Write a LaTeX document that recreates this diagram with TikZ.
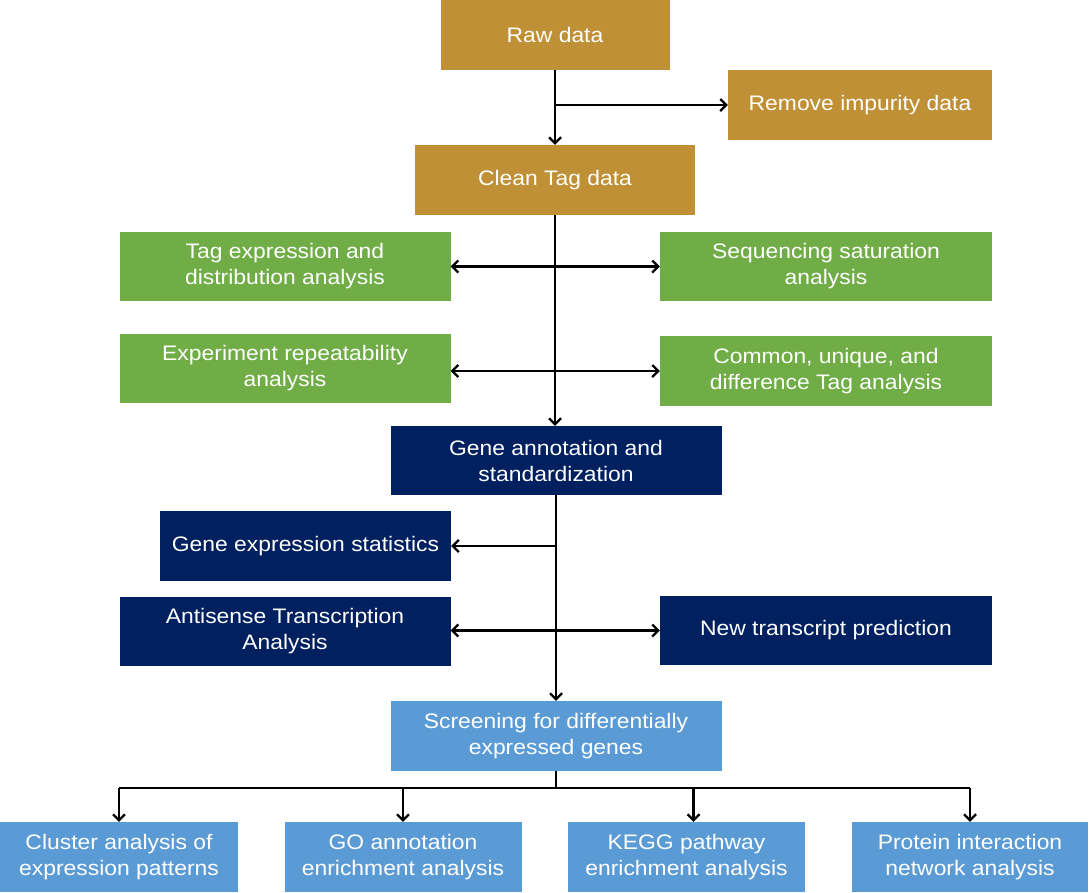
\documentclass[tikz,border=0pt]{standalone}
\usepackage{fontspec}
\setmainfont[FakeStretch=1.09]{Liberation Sans}
\usetikzlibrary{arrows.meta}
\definecolor{gold}{HTML}{BF9035}
\definecolor{leaf}{HTML}{70AD47}
\definecolor{navy}{HTML}{002060}
\definecolor{sky}{HTML}{5B9BD5}
\tikzset{
	>={Straight Barb[length=6pt, width=12pt, line width=2.2pt]},
	box/.style={rectangle, inner sep=0pt, text=white, align=center, font=\fontsize{21}{26}\selectfont},
	goldbox/.style={box, fill=gold},
	leafbox/.style={box, fill=leaf},
	navybox/.style={box, fill=navy},
	skybox/.style={box, fill=sky},
	bus/.style={line width=2.5pt},
	link/.style={bus, ->},
	twoway/.style={bus, <->}
}

\begin{document}
\begin{tikzpicture}[x=1pt, y=-1pt]
			%%%%% START %%%%%
			
			\useasboundingbox (0, 0) rectangle (1090, 892);
			
			\node[goldbox, minimum width=229, minimum height=70] (raw) at (555, 35) {Raw data};
			\node[goldbox, minimum width=264, minimum height=70] (impurity) at (860, 105) {Remove impurity data};
			\node[goldbox, minimum width=280, minimum height=70] (clean) at (555, 180) {Clean Tag data};
			
			\node[leafbox, minimum width=331, minimum height=69] (tagexpr) at (285, 266.5) {Tag expression and\\distribution analysis};
			\node[leafbox, minimum width=332, minimum height=69] (seqsat) at (826, 266.5) {Sequencing saturation\\analysis};
			\node[leafbox, minimum width=331, minimum height=69] (repeat) at (285, 368.5) {Experiment repeatability\\analysis};
			\node[leafbox, minimum width=332, minimum height=70] (common) at (826, 371) {Common, unique, and\\difference Tag analysis};
			
			\node[navybox, minimum width=331, minimum height=69] (annot) at (556, 460.5) {Gene annotation and\\standardization};
			\node[navybox, minimum width=291, minimum height=70] (genestat) at (305.5, 546) {Gene expression statistics};
			\node[navybox, minimum width=331, minimum height=69] (antisense) at (285, 631.5) {Antisense Transcription\\Analysis};
			\node[navybox, minimum width=332, minimum height=69] (newtrans) at (826, 630.5) {New transcript prediction};
			
			\node[skybox, minimum width=331, minimum height=70] (screen) at (556, 736) {Screening for differentially\\expressed genes};
			
			\node[skybox, minimum width=238, minimum height=70] (cluster) at (119, 857) {Cluster analysis of\\expression patterns};
			\node[skybox, minimum width=237, minimum height=70] (go) at (403, 857) {GO annotation\\enrichment analysis};
			\node[skybox, minimum width=237, minimum height=70] (kegg) at (686.5, 857) {KEGG pathway\\enrichment analysis};
			\node[skybox, minimum width=236, minimum height=70] (protein) at (970, 857) {Protein interaction\\network analysis};
			
			\draw[link] (raw.south) -- (clean.north);
			\draw[link] (raw.south |- impurity.west) -- (impurity.west);
			
			\draw[link] (clean.south) -- (clean.south |- annot.north);
			\draw[twoway] (tagexpr.east) -- (seqsat.west);
			\draw[twoway] (common.west -| repeat.east) -- (common.west);
			
			\draw[link] (annot.south) -- (screen.north);
			\draw[link] (annot.south |- genestat.east) -- (genestat.east);
			\draw[twoway] (newtrans.west -| antisense.east) -- (newtrans.west);
			
			\coordinate (fork) at (556, 788);
			\draw[bus] (screen.south) -- (fork);
			\draw[bus] (fork -| cluster.north) -- (fork -| protein.north);
			\draw[link] (fork -| cluster.north) -- (cluster.north);
			\draw[link] (fork -| go.north) -- (go.north);
			\draw[link] ([xshift=7]kegg.north |- fork) -- ([xshift=7]kegg.north);
			\draw[link] (fork -| protein.north) -- (protein.north);
			
			%%%%% END %%%%%
		\end{tikzpicture}
\end{document}
